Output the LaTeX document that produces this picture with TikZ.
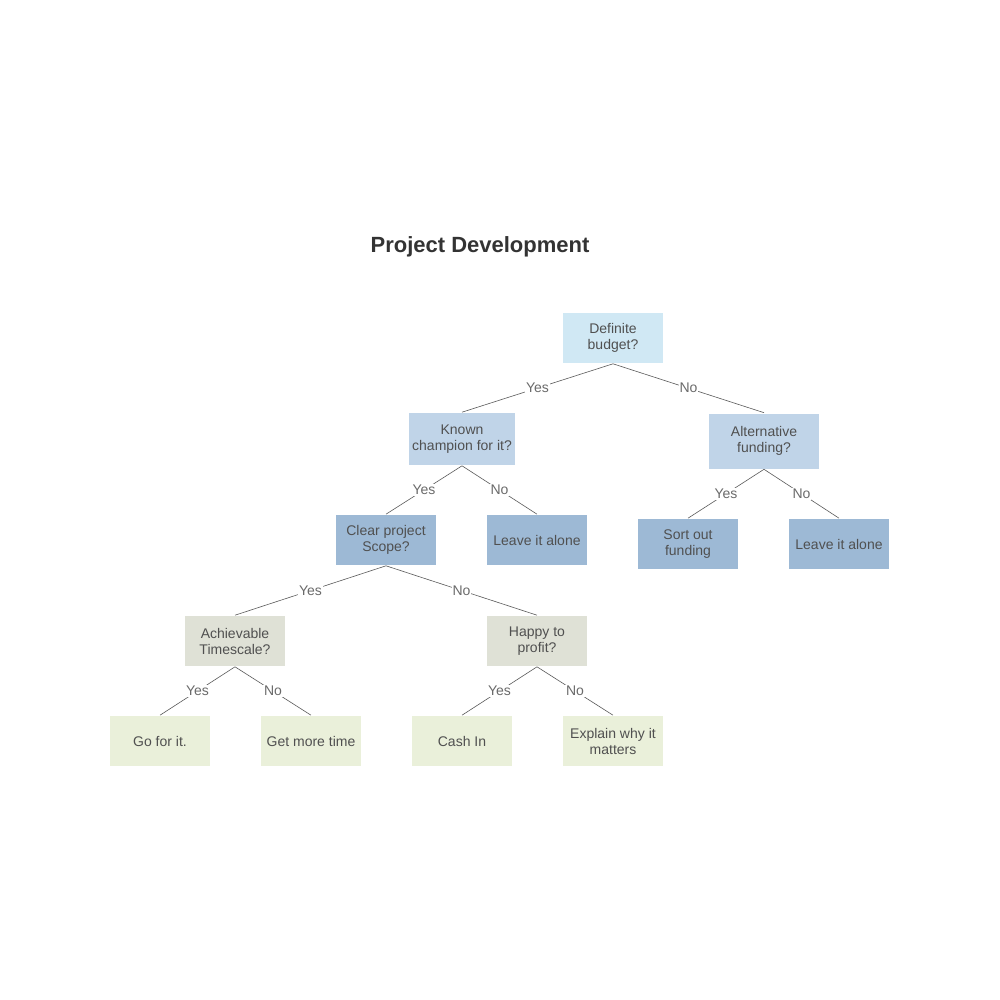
\documentclass[tikz,border=0pt]{standalone}
\usepackage{fontspec}
\setmainfont{Liberation Sans}
\usetikzlibrary{positioning}

\definecolor{qtop}{HTML}{D0E8F4}
\definecolor{qmid}{HTML}{C0D4E8}
\definecolor{qlow}{HTML}{9DB9D5}
\definecolor{qgrey}{HTML}{DFE1D6}
\definecolor{qleaf}{HTML}{EAF0DA}
\definecolor{txt}{HTML}{505050}
\definecolor{edgecol}{HTML}{5A5A5A}

\tikzset{
    box/.style={rectangle, draw=white, line width=0.6pt, minimum width=101pt, minimum height=51pt, align=center, text=txt, font=\fontsize{14}{16}\selectfont, inner sep=2pt},
    branch/.style={draw=edgecol, line width=0.6pt},
    ans/.style={midway, fill=white, inner sep=1pt, text=txt!85, font=\fontsize{14}{16}\selectfont}
}

\begin{document}
\begin{tikzpicture}[x=1pt, y=-1pt]
    \useasboundingbox[fill=white] (0,0) rectangle (1000,1000);

    \node[font=\bfseries\fontsize{22}{26}\selectfont, text=black!80] (title) at (480,247) {Project Development};

    % questions
    \node[box, fill=qtop] (budget) at (613,338) {Definite\\budget?};
    \node[box, fill=qmid, minimum width=107pt, minimum height=53pt] (champ) at (462,439) {Known\\champion for it?};
    \node[box, fill=qmid, minimum width=111pt, minimum height=56pt] (altfund) at (764,441) {Alternative\\funding?};
    \node[box, fill=qlow] (scope) at (386,540) {Clear project\\Scope?};
    \node[box, fill=qlow] (leave1) at (537,540) {Leave it alone};
    \node[box, fill=qlow] (sortout) at (688,544) {Sort out\\funding};
    \node[box, fill=qlow] (leave2) at (839,544) {Leave it alone};
    \node[box, fill=qgrey] (timescale) at (235,641) {Achievable\\Timescale?};
    \node[box, fill=qgrey] (profit) at (537,641) {Happy to\\profit?};

    % outcomes
    \node[box, fill=qleaf] (gofor) at (160,741) {Go for it.};
    \node[box, fill=qleaf] (moretime) at (311,741) {Get more time};
    \node[box, fill=qleaf] (cashin) at (462,741) {Cash In};
    \node[box, fill=qleaf] (explain) at (613,741) {Explain why it\\matters};

    \draw[branch] (budget.south) -- node[ans] {Yes} (champ.north);
    \draw[branch] (budget.south) -- node[ans] {No} (altfund.north);
    \draw[branch] (champ.south) -- node[ans] {Yes} (scope.north);
    \draw[branch] (champ.south) -- node[ans] {No} (leave1.north);
    \draw[branch] (altfund.south) -- node[ans] {Yes} (sortout.north);
    \draw[branch] (altfund.south) -- node[ans] {No} (leave2.north);
    \draw[branch] (scope.south) -- node[ans] {Yes} (timescale.north);
    \draw[branch] (scope.south) -- node[ans] {No} (profit.north);
    \draw[branch] (timescale.south) -- node[ans] {Yes} (gofor.north);
    \draw[branch] (timescale.south) -- node[ans] {No} (moretime.north);
    \draw[branch] (profit.south) -- node[ans] {Yes} (cashin.north);
    \draw[branch] (profit.south) -- node[ans] {No} (explain.north);
\end{tikzpicture}
\end{document}
